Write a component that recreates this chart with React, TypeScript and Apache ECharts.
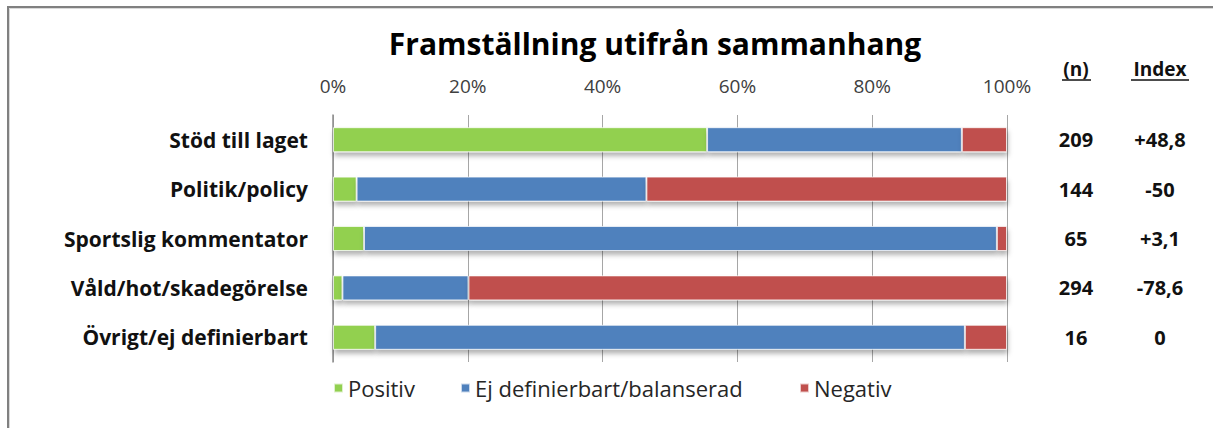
import React, { useEffect, useRef } from "react";
import * as echarts from "echarts";

const categories = [
  "Stöd till laget",
  "Politik/policy",
  "Sportslig kommentator",
  "Våld/hot/skadegörelse",
  "Övrigt/ej definierbart",
];
const positiv = [55.5, 3.5, 4.6, 1.4, 6.25];
const neutral = [37.8, 43.0, 93.9, 18.7, 87.5];
const negativ = [6.7, 53.5, 1.5, 79.9, 6.25];
const nValues = ["209", "144", "65", "294", "16"];
const indexValues = ["+48,8", "-50", "+3,1", "-78,6", "0"];
const xTicks = [0, 20, 40, 60, 80, 100];
const seriesNames = ["Positiv", "Ej definierbart/balanserad", "Negativ"];
const colors = ["#92D050", "#4F81BD", "#C0504D"];
const legendLefts = [333, 460, 799];

const FONT = "'Open Sans', 'Liberation Sans', sans-serif";

export default function App() {
  const ref = useRef<HTMLDivElement>(null);
  useEffect(() => {
    if (!ref.current) return;
    const chart = echarts.init(ref.current, null, { renderer: "svg" });
    const barStyle = (c: string) => ({
      color: c,
      borderColor: "rgba(255,255,255,0.7)",
      borderWidth: 1,
      shadowColor: "rgba(0,0,0,0.3)",
      shadowBlur: 5,
      shadowOffsetX: 1,
      shadowOffsetY: 4,
    });
    const data = [positiv, neutral, negativ];
    chart.setOption({
      animation: false,
      textStyle: { fontFamily: FONT },
      grid: { left: 333, right: 206, top: 115, height: 247, containLabel: false },
      xAxis: {
        type: "value",
        position: "top",
        min: xTicks[0],
        max: xTicks[xTicks.length - 1],
        interval: xTicks[1] - xTicks[0],
        axisLine: { show: false },
        axisTick: { show: false },
        axisLabel: {
          formatter: "{value}%",
          fontSize: 19,
          color: "#404040",
          margin: 20,
          fontFamily: FONT,
        },
        splitLine: { show: true, lineStyle: { color: "#a6a6a6", width: 1 } },
      },
      yAxis: [
        {
          type: "category",
          data: categories,
          inverse: true,
          axisLine: { show: true, lineStyle: { color: "#8c8c8c", width: 1.5 } },
          axisTick: { show: false },
          axisLabel: {
            fontSize: 21,
            fontWeight: "bold",
            color: "#111",
            margin: 25,
            fontFamily: FONT,
          },
        },
        {
          type: "category",
          data: nValues,
          inverse: true,
          position: "right",
          axisLine: { show: false },
          axisTick: { show: false },
          axisLabel: {
            fontSize: 20,
            fontWeight: "bold",
            color: "#111",
            align: "center",
            margin: 69,
            fontFamily: FONT,
          },
        },
        {
          type: "category",
          data: indexValues,
          inverse: true,
          position: "right",
          axisLine: { show: false },
          axisTick: { show: false },
          axisLabel: {
            fontSize: 20,
            fontWeight: "bold",
            color: "#111",
            align: "center",
            margin: 153,
            fontFamily: FONT,
          },
        },
      ],
      legend: seriesNames.map((name, i) => ({
        data: [name],
        left: legendLefts[i],
        top: 377,
        padding: 0,
        icon: "rect",
        itemWidth: 9,
        itemHeight: 9,
        textStyle: { fontSize: 22, color: "#262626", fontFamily: FONT, padding: [0, 0, 0, 0] },
      })),
      series: seriesNames.map((name, i) => ({
        name,
        type: "bar",
        stack: "total",
        yAxisIndex: 0,
        barWidth: 25,
        data: data[i],
        itemStyle: barStyle(colors[i]),
      })),
      graphic: [
        {
          type: "rect",
          shape: { x: 8, y: 7, width: 1240, height: 460 },
          style: { fill: "none", stroke: "#808080", lineWidth: 2 },
          silent: true,
        },
        {
          type: "rect",
          shape: { x: 9.5, y: 8.5, width: 1240, height: 460 },
          style: { fill: "none", stroke: "#d9d9d9", lineWidth: 1 },
          silent: true,
        },
        {
          type: "text",
          x: 655,
          y: 43,
          style: {
            text: "Framställning utifrån sammanhang",
            textAlign: "center",
            textVerticalAlign: "middle",
            fontSize: 30,
            fontWeight: "bold",
            fontFamily: FONT,
            fill: "#000",
          },
        },
        {
          type: "text",
          x: 1076,
          y: 69,
          style: {
            text: "(n)",
            textAlign: "center",
            textVerticalAlign: "middle",
            fontSize: 19,
            fontWeight: "bold",
            fontFamily: FONT,
            fill: "#111",
          },
        },
        {
          type: "line",
          shape: { x1: 1062, y1: 80, x2: 1091, y2: 80 },
          style: { stroke: "#111", lineWidth: 1.5 },
        },
        {
          type: "text",
          x: 1160,
          y: 69,
          style: {
            text: "Index",
            textAlign: "center",
            textVerticalAlign: "middle",
            fontSize: 19,
            fontWeight: "bold",
            fontFamily: FONT,
            fill: "#111",
          },
        },
        {
          type: "line",
          shape: { x1: 1131, y1: 80, x2: 1189, y2: 80 },
          style: { stroke: "#111", lineWidth: 1.5 },
        },
      ],
    });
    return () => chart.dispose();
  }, []);
  return (
    <div
      ref={ref}
      style={{ position: "absolute", left: 0, top: 0, width: 1213, height: 428, background: "#fff" }}
    />
  );
}
